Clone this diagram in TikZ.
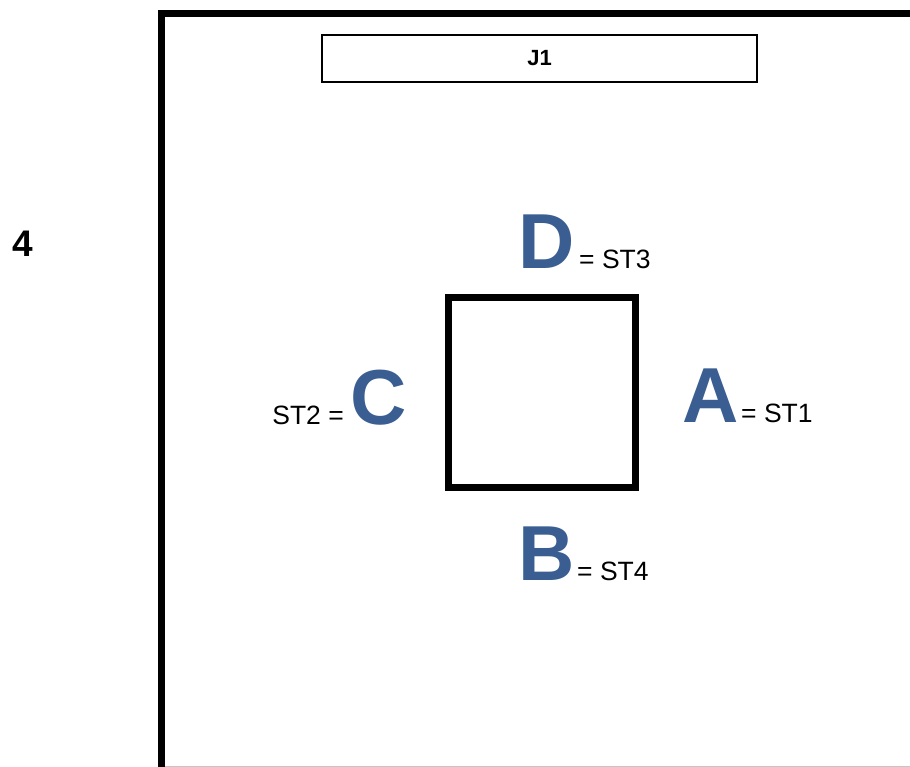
\documentclass[tikz,border=0pt]{standalone}
\usepackage{fontspec}
\setmainfont{Liberation Sans}
\definecolor{letterblue}{HTML}{3A5E91}
\tikzset{
  frameline/.style={line width=7pt, black},
  bigletter/.style={anchor=base west, inner sep=0pt, text=letterblue, font=\fontsize{78}{78}\selectfont\bfseries},
  eqlabel/.style={inner sep=0pt, font=\fontsize{26.5}{26.5}\selectfont},
  titlebox/.style={draw, line width=1.3pt, minimum width=435pt, minimum height=47pt, inner sep=0pt, font=\fontsize{22}{22}\selectfont\bfseries},
  squarebox/.style={draw, line width=7pt, minimum width=187pt, minimum height=189pt, inner sep=0pt}
}
\begin{document}
\begin{tikzpicture}[x=1pt,y=-1pt]
\useasboundingbox (0,0) rectangle (910,767);
% outer frame
\coordinate (ftr) at (910,14);
\coordinate (ftl) at (161,14);
\coordinate (fbl) at (161,767);
\coordinate (gbl) at (164,766);
\coordinate (gbr) at (910,766);
\draw[gray!45, line width=1pt] (gbl) -- (gbr);
\draw[frameline, line cap=rect] (ftr) -- (ftl) -- (fbl);
% title box
\node[titlebox] (j1) at (539.5,58.5) {J1};
% side number
\node[anchor=base west, inner sep=0pt, font=\fontsize{37}{37}\selectfont\bfseries] (num) at (12,257) {4};
% central square
\node[squarebox] (sq) at (541.5,392.5) {};
% letters
\node[bigletter] (D) at (518,269) {D};
\node[eqlabel, anchor=base west] (st3) at (579,269) {= ST3};
\node[bigletter] (A) at (682,422) {A};
\node[eqlabel, anchor=base west] (st1) at (741,422) {= ST1};
\node[bigletter] (C) at (350,424) {C};
\node[eqlabel, anchor=base east] (st2) at (344,424) {ST2 =};
\node[bigletter] (B) at (518,580) {B};
\node[eqlabel, anchor=base west] (st4) at (577,580) {= ST4};
\end{tikzpicture}
\end{document}
